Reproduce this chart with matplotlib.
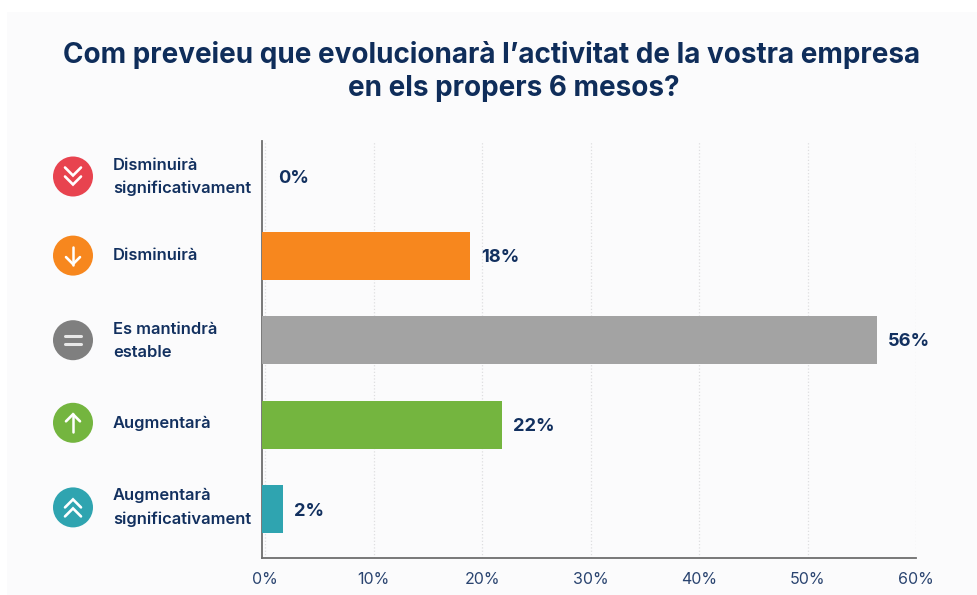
import numpy as np
from matplotlib import pyplot as plt
from matplotlib.patches import Circle, Rectangle

plt.rcParams['font.family'] = ['Inter', 'DejaVu Sans']

title_1 = "Com preveieu que evolucionarà l’activitat de la vostra empresa"
title_2 = "en els propers 6 mesos?"
categories = ["Disminuirà\nsignificativament", "Disminuirà", "Es mantindrà\nestable",
              "Augmentarà", "Augmentarà\nsignificativament"]
bar_values = [0, 18.9, 56.4, 21.8, 1.6]
bar_labels = ["0%", "18%", "56%", "22%", "2%"]
bar_colors = ["#e8434f", "#f7871e", "#a3a3a3", "#74b53f", "#2fa4b0"]
icon_colors = ["#e8434f", "#f7871e", "#7f7f7f", "#74b53f", "#2fa4b0"]
icon_kinds = ["down2", "down", "equal", "up", "up2"]
x_ticks = [0, 10, 20, 30, 40, 50, 60]

NAVY = "#12305f"
W, H = 978, 595

fig = plt.figure(figsize=(W / 100, H / 100), dpi=100, facecolor="white")

# fond + icones en coordonnees pixel
ov = fig.add_axes([0, 0, 1, 1])
ov.set_xlim(0, W)
ov.set_ylim(H, 0)
ov.axis("off")
ov.add_patch(Rectangle((7, 12), W - 7, H - 12, fc="#fbfbfc", ec="none"))

# axe principal : 262-916 px en x, 141-558 px en y
rows_top, row_h = 171, 84.6
x_left = -0.3  # l'axe vertical est un peu a gauche du 0 de la grille
ax = fig.add_axes([262 / W, 1 - 558 / H, (916 - 262) / W, (558 - 141) / H])
ax.patch.set_alpha(0)
ax.set_xlim(x_left, 60)
ax.set_ylim((558 - rows_top) / row_h, (141 - rows_top) / row_h)

y = np.arange(len(categories))
vals = np.array(bar_values)
ax.barh(y, np.where(vals > 0, vals - x_left, 0), left=x_left, height=48 / row_h,
        color=bar_colors, zorder=3)
# la ligne du 0% n'a pas de barre, son texte est a la hauteur de l'icone
label_shift = [7, 2, 1, 2, 2]
for i in y:
    ax.annotate(bar_labels[i], (bar_values[i], i), xytext=(11 if bar_values[i] else 13, -label_shift[i]),
                textcoords="offset pixels", va="center", ha="left", fontsize=13.2,
                fontweight="bold", color=NAVY)

ax.set_xticks(x_ticks)
ax.set_xticklabels([f"{t}%" for t in x_ticks], fontsize=11.5, color="#2a4470")
ax.tick_params(axis="x", length=0, pad=10)
ax.set_yticks([])
ax.grid(axis="x", ls=":", lw=0.9, color="#dedee0", zorder=0)
for s in ("top", "right"):
    ax.spines[s].set_visible(False)
for s in ("left", "bottom"):
    ax.spines[s].set_color("#6e6e6e")
    ax.spines[s].set_linewidth(1.3)


def chevron(cx, cy, direction, w=8, h=8):
    ov.plot([cx - w, cx, cx + w], [cy - direction * h / 2, cy + direction * h / 2, cy - direction * h / 2],
            color="white", lw=1.9, solid_capstyle="round", solid_joinstyle="miter", zorder=5)


def draw_icon(cx, cy, kind, color):
    ov.add_patch(Circle((cx, cy), 20, fc=color, ec="none", zorder=4))
    if kind == "down2":
        chevron(cx, cy - 5, 1)
        chevron(cx, cy + 4, 1)
    elif kind == "up2":
        chevron(cx, cy - 4, -1)
        chevron(cx, cy + 5, -1)
    elif kind == "equal":
        for d in (-4, 4):
            ov.plot([cx - 8, cx + 8], [cy + d, cy + d], color="#e8e8e8", lw=2.2,
                    solid_capstyle="round", zorder=5)
    else:
        sgn = 1 if kind == "down" else -1
        ov.plot([cx, cx], [cy - sgn * 9, cy + sgn * 9], color="white", lw=1.8,
                solid_capstyle="round", zorder=5)
        chevron(cx, cy + sgn * 5, sgn, w=7, h=7)


icon_offsets = [5.5, 0, 0, -2, -2]
text_offsets = [6, 0, 1, -1, -2]
for i, cat in enumerate(categories):
    cy = rows_top + row_h * i
    draw_icon(73, cy + icon_offsets[i], icon_kinds[i], icon_colors[i])
    ov.text(113, cy + text_offsets[i], cat, fontsize=11.9, fontweight="semibold", color=NAVY,
            va="center", ha="left", linespacing=1.68)

ov.text(491.5, 55, title_1, fontsize=20.05, fontweight="bold", color="#0f2d5a", ha="center", va="center")
ov.text(513.5, 89, title_2, fontsize=20.05, fontweight="bold", color="#0f2d5a", ha="center", va="center")

fig.savefig("out.png", dpi=100, facecolor="white")
